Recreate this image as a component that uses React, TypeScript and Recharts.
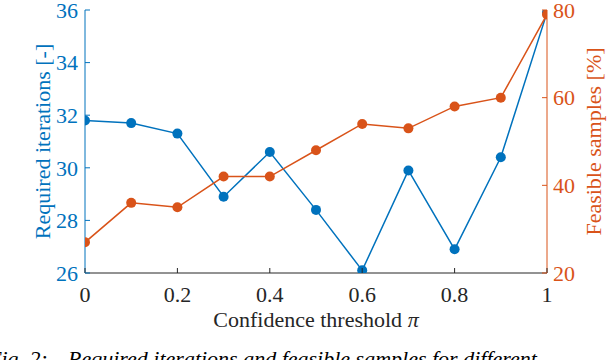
import React from 'react';
import { LineChart, Line, XAxis, YAxis } from 'recharts';

const thresholds = [0, 0.1, 0.2, 0.3, 0.4, 0.5, 0.6, 0.7, 0.8, 0.9, 1];
const requiredIterations = [31.8, 31.7, 31.3, 28.9, 30.6, 28.4, 26.1, 29.9, 26.9, 30.4, 35.9];
const feasibleSamples = [27, 36, 35, 42, 42, 48, 54, 53, 58, 60, 79];
const xTicks = [0, 0.2, 0.4, 0.6, 0.8, 1];
const leftTicks = [26, 28, 30, 32, 34, 36];
const rightTicks = [20, 40, 60, 80];

const xTitle = 'Confidence threshold ';
const leftTitle = 'Required iterations [-]';
const rightTitle = 'Feasible samples [%]';
const captionHead = 'Fig. 2:';
const captionBody = 'Required iterations and feasible samples for different';

const BLUE = '#0072BD';
const ORANGE = '#D95319';
const DARK = '#262626';
const FONT = "'Liberation Serif', 'Times New Roman', Tinos, 'DejaVu Serif', serif";
const FS = 22;
const textStyle: React.CSSProperties = { fontFamily: FONT, fontSize: FS };

const data = thresholds.map((t, i) => ({
  t,
  iterations: requiredIterations[i],
  feasible: feasibleSamples[i],
}));

const fmtX = (v: number) => (v === 0 ? '0' : v === 1 ? '1' : String(v));

const LeftTick = (props: any) => {
  const { x, y, payload } = props;
  return (
    <g>
      <line x1={x + 7} x2={x + 12} y1={y} y2={y} stroke={BLUE} strokeWidth={1} />
      <text x={x} y={y} dy="0.355em" textAnchor="end" fill={BLUE} style={textStyle}>
        {payload.value}
      </text>
    </g>
  );
};

const RightTick = (props: any) => {
  const { x, y, payload } = props;
  return (
    <g>
      <line x1={x - 6} x2={x - 11} y1={y} y2={y} stroke={ORANGE} strokeWidth={1} />
      <text x={x} y={y} dy="0.355em" textAnchor="start" fill={ORANGE} style={textStyle}>
        {payload.value}
      </text>
    </g>
  );
};

const BottomTick = (props: any) => {
  const { x, y, payload } = props;
  return (
    <g>
      <line x1={x} x2={x} y1={y - 13} y2={y - 18} stroke={DARK} strokeWidth={1} />
      <text x={x} y={y} dy="0.71em" textAnchor="middle" fill={DARK} style={textStyle}>
        {fmtX(payload.value)}
      </text>
    </g>
  );
};

const XTitle = (props: any) => {
  const vb = props.viewBox || { x: 85, y: 273, width: 462, height: 87 };
  return (
    <text x={vb.x + vb.width / 2} y={vb.y + 54} textAnchor="middle" fill={DARK} style={textStyle}>
      {xTitle}
      <tspan fontStyle="italic">π</tspan>
    </text>
  );
};

const LeftTitle = (props: any) => {
  const vb = props.viewBox || { x: 0, y: 10, width: 85, height: 263 };
  const cx = vb.x + 50;
  const cy = vb.y + vb.height / 2;
  return (
    <text x={cx} y={cy} textAnchor="middle" fill={BLUE} style={textStyle} transform={`rotate(-90 ${cx} ${cy})`}>
      {leftTitle}
    </text>
  );
};

const RightTitle = (props: any) => {
  const vb = props.viewBox || { x: 547, y: 10, width: 61, height: 263 };
  const cx = vb.x + 54;
  const cy = vb.y + vb.height / 2;
  return (
    <text x={cx} y={cy} textAnchor="middle" fill={ORANGE} style={textStyle} transform={`rotate(-90 ${cx} ${cy})`}>
      {rightTitle}
    </text>
  );
};

export default function App() {
  return (
    <div style={{ position: 'absolute', left: 0, top: 0, width: 608, height: 360, background: '#fff', overflow: 'hidden', fontFamily: FONT }}>
      <LineChart width={608} height={360} data={data} margin={{ top: 10, right: 0, bottom: 0, left: 0 }}>
        <Line
          yAxisId="left"
          dataKey="iterations"
          stroke={BLUE}
          strokeWidth={1.5}
          dot={{ r: 5, fill: BLUE, stroke: BLUE, strokeWidth: 0, clipDot: true }}
          activeDot={false}
          isAnimationActive={false}
        />
        <Line
          yAxisId="right"
          dataKey="feasible"
          stroke={ORANGE}
          strokeWidth={1.5}
          dot={{ r: 5, fill: ORANGE, stroke: ORANGE, strokeWidth: 0, clipDot: true }}
          activeDot={false}
          isAnimationActive={false}
        />
        <XAxis
          dataKey="t"
          type="number"
          domain={[0, 1]}
          allowDataOverflow
          ticks={xTicks}
          height={87}
          stroke={DARK}
          tickLine={false}
          tickSize={0}
          tickMargin={13}
          tick={<BottomTick />}
          interval={0}
          label={<XTitle />}
        />
        <YAxis
          yAxisId="left"
          orientation="left"
          domain={[26, 36]}
          allowDataOverflow
          ticks={leftTicks}
          width={85}
          stroke={BLUE}
          tickLine={false}
          tickSize={0}
          tickMargin={7}
          tick={<LeftTick />}
          interval={0}
          label={<LeftTitle />}
        />
        <YAxis
          yAxisId="right"
          orientation="right"
          domain={[20, 80]}
          allowDataOverflow
          ticks={rightTicks}
          width={61}
          stroke={ORANGE}
          tickLine={false}
          tickSize={0}
          tickMargin={6}
          tick={<RightTick />}
          interval={0}
          label={<RightTitle />}
        />
      </LineChart>
      <svg width={608} height={360} style={{ position: 'absolute', left: 0, top: 0, pointerEvents: 'none' }}>
        <text x={-12} y={366} fill="#000" style={textStyle}>
          <tspan fontStyle="italic">{captionHead}</tspan>
          <tspan x={68} fontStyle="italic">{captionBody}</tspan>
        </text>
      </svg>
    </div>
  );
}
